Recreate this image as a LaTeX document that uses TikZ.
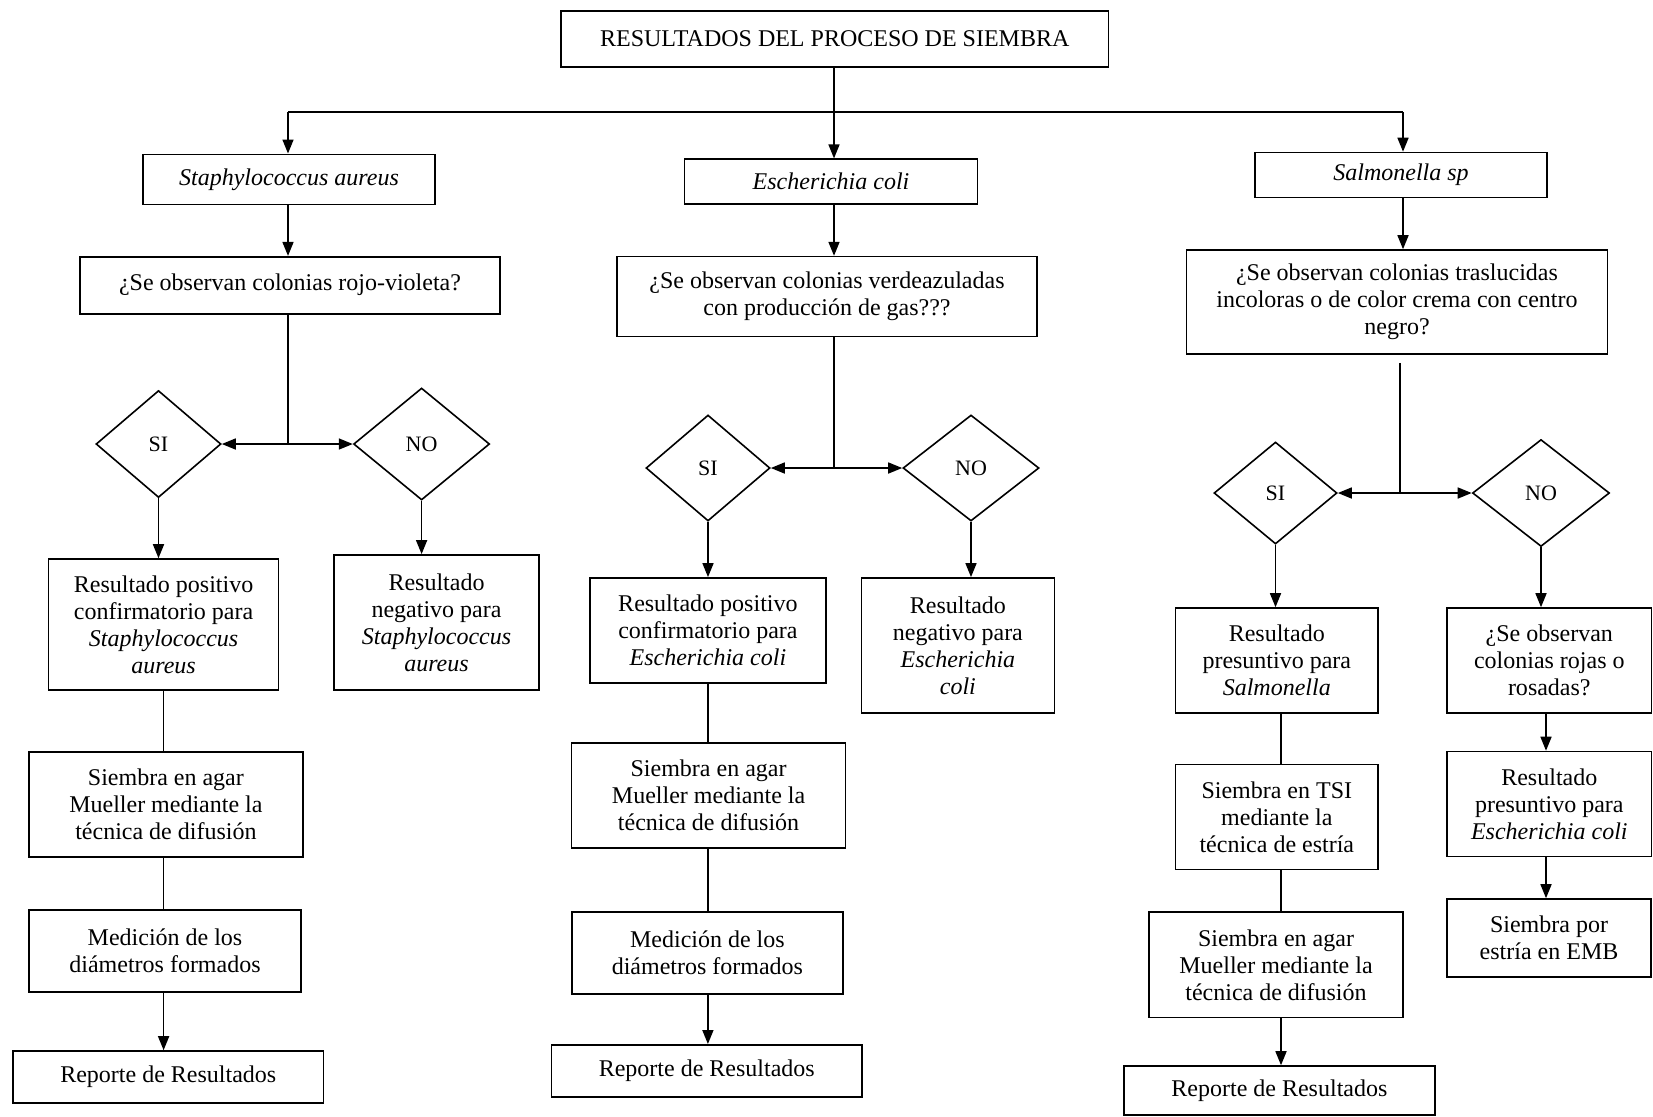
\documentclass[tikz,border=0pt]{standalone}
\usepackage{fontspec}
\setmainfont{Liberation Serif}
\usetikzlibrary{shapes.geometric,arrows.meta}
\begin{document}
\begin{tikzpicture}[x=0.5pt,y=-0.5pt,
 box/.style={draw, line width=0.8pt, align=center, inner sep=1pt, font=\fontsize{12}{13.5}\selectfont},
 dia/.style={draw, diamond, line width=0.8pt, inner sep=0pt, font=\fontsize{11}{13}\selectfont},
 ln/.style={line width=0.8pt},
 arr/.style={line width=0.8pt, -{Triangle[width=5.5pt,length=7pt]}},
 sz/.style 2 args={minimum width=#1*0.5pt, minimum height=#2*0.5pt}]
\fill[white] (0,0) rectangle (1653,1116);
\useasboundingbox (0,0) rectangle (1653,1116);

% level 0/1
\node[box, sz={547.5}{56}] (top) at (834.75,38.75) {RESULTADOS DEL PROCESO DE SIEMBRA};
\node[box, sz={292}{50}] (sa) at (289,179.3) {\textit{Staphylococcus aureus}};
\node[box, sz={420}{57}] (saq) at (290,285.2) {¿Se observan colonias rojo-violeta?};
\node[box, sz={293}{45}] (ec) at (831,181.7) {\textit{Escherichia coli}};
\node[box, sz={420}{80}] (ecq) at (827,296.6) {¿Se observan colonias verdeazuladas\\con producción de gas???};
\node[box, sz={292}{45}] (sp) at (1401,175) {\textit{Salmonella sp}};
\node[box, sz={421}{104}] (spq) at (1397,302) {¿Se observan colonias traslucidas\\incoloras o de color crema con centro\\negro?};

% diamonds
\node[dia, sz={125}{107}] (saSI) at (158.5,444) {SI};
\node[dia, sz={136}{112}] (saNO) at (421.6,444) {NO};
\node[dia, sz={124}{106}] (ecSI) at (708,468) {SI};
\node[dia, sz={136}{106}] (ecNO) at (971,468) {NO};
\node[dia, sz={123}{102}] (spSI) at (1275.5,493) {SI};
\node[dia, sz={137}{107}] (spNO) at (1541,493) {NO};

% Staphylococcus column
\node[box, sz={230}{131}] (saPos) at (163.6,624.5) {Resultado positivo\\confirmatorio para\\\textit{Staphylococcus}\\\textit{aureus}};
\node[box, sz={205}{135}] (saNeg) at (436.5,622.4) {Resultado\\negativo para\\\textit{Staphylococcus}\\\textit{aureus}};
\node[box, sz={274}{105}] (saSiem) at (165.9,804.2) {Siembra en agar\\Mueller mediante la\\técnica de difusión};
\node[box, sz={272}{82}] (saMed) at (165,951) {Medición de los\\diámetros formados};
\node[box, sz={310.5}{52}] (saRep) at (168.3,1077) {Reporte de Resultados};

% Escherichia column
\node[box, sz={236}{105}] (ecPos) at (707.9,630.4) {Resultado positivo\\confirmatorio para\\\textit{Escherichia coli}};
\node[box, sz={193}{135}] (ecNeg) at (957.9,645.4) {Resultado\\negativo para\\\textit{Escherichia}\\\textit{coli}};
\node[box, sz={274}{105}] (ecSiem) at (708.6,795.5) {Siembra en agar\\Mueller mediante la\\técnica de difusión};
\node[box, sz={271}{82}] (ecMed) at (707.4,953) {Medición de los\\diámetros formados};
\node[box, sz={310.5}{52}] (ecRep) at (706.8,1070.8) {Reporte de Resultados};

% Salmonella column
\node[box, sz={202.5}{105}] (spPres) at (1276.8,660.5) {Resultado\\presuntivo para\\\textit{Salmonella}};
\node[box, sz={202.5}{105}] (spTSI) at (1276.8,817) {Siembra en TSI\\mediante la\\técnica de estría};
\node[box, sz={254}{105.6}] (spSiem) at (1276,964.8) {Siembra en agar\\Mueller mediante la\\técnica de difusión};
\node[box, sz={311}{49}] (spRep) at (1279.4,1090.5) {Reporte de Resultados};
\node[box, sz={204.6}{105}] (spNoQ) at (1549.3,660.5) {¿Se observan\\colonias rojas o\\rosadas?};
\node[box, sz={204.6}{105}] (spNoRes) at (1549.3,804) {Resultado\\presuntivo para\\\textit{Escherichia coli}};
\node[box, sz={204}{78}] (spNoSiem) at (1549,938) {Siembra por\\estría en EMB};

% top distribution
\coordinate (hL) at (288,112);
\coordinate (hR) at (1403,112);
\coordinate (hM) at (834,112);
\draw[ln] (hL) -- (hR);
\draw[ln] (top.south -| hM) -- (hM);
\draw[arr] (hM) -- (hM |- ec.north);
\draw[arr] (hL) -- (hL |- sa.north);
\draw[arr] (hR) -- (hR |- sp.north);
\draw[arr] (sa.south -| hL) -- (hL |- saq.north);
\draw[arr] (ec.south -| hM) -- (hM |- ecq.north);
\draw[arr] (sp.south -| hR) -- (hR |- spq.north);

% junctions
\coordinate (jA) at (288,444);
\coordinate (jB) at (834,468);
\coordinate (jC) at (1400,493);
\draw[ln] (jA |- saq.south) -- (jA);
\draw[arr] (jA) -- (saSI.east);
\draw[arr] (jA) -- (saNO.west);
\draw[ln] (jB |- ecq.south) -- (jB);
\draw[arr] (jB) -- (ecSI.east);
\draw[arr] (jB) -- (ecNO.west);
\draw[ln, shorten <=4pt] (jC |- spq.south) -- (jC);
\draw[arr] (jC) -- (spSI.east);
\draw[arr] (jC) -- (spNO.west);

% diamond outputs
\draw[arr] (saSI.south) -- (saSI.south |- saPos.north);
\draw[arr] (saNO.south) -- (saNO.south |- saNeg.north);
\draw[arr] (ecSI.south) -- (ecSI.south |- ecPos.north);
\draw[arr] (ecNO.south) -- (ecNO.south |- ecNeg.north);
\draw[arr] (spSI.south) -- (spSI.south |- spPres.north);
\draw[arr] (spNO.south) -- (spNO.south |- spNoQ.north);

% column chains
\draw[ln] (saPos.south) -- (saPos.south |- saSiem.north);
\draw[ln] (saPos.south |- saSiem.south) -- (saPos.south |- saMed.north);
\draw[arr] (saPos.south |- saMed.south) -- (saPos.south |- saRep.north);

\draw[ln] (ecPos.south) -- (ecPos.south |- ecSiem.north);
\draw[ln] (ecPos.south |- ecSiem.south) -- (ecPos.south |- ecMed.north);
\draw[arr] (ecPos.south |- ecMed.south) -- (ecPos.south |- ecRep.north);

\coordinate (cS) at (1281,700);
\draw[ln] (cS |- spPres.south) -- (cS |- spTSI.north);
\draw[ln] (cS |- spTSI.south) -- (cS |- spSiem.north);
\draw[arr] (cS |- spSiem.south) -- (cS |- spRep.north);

\coordinate (cN) at (1546,700);
\draw[arr] (cN |- spNoQ.south) -- (cN |- spNoRes.north);
\draw[arr] (cN |- spNoRes.south) -- (cN |- spNoSiem.north);
\end{tikzpicture}
\end{document}
